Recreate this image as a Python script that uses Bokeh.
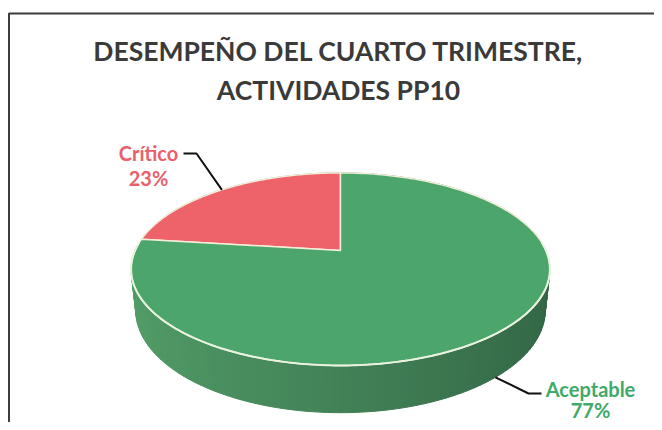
import numpy as np
from bokeh.plotting import figure
from bokeh.models import Range1d
from bokeh.core.properties import value
from bokeh.embed import file_html
from bokeh.resources import INLINE

# ---- data ----
categories = ["Crítico", "Aceptable"]
percents = [23, 77]
top_colors = ["#EE6269", "#4CA66B"]
label_colors = ["#E8606B", "#3FAA69"]
title_lines = ["DESEMPEÑO DEL CUARTO TRIMESTRE,", "ACTIVIDADES PP10"]

# ---- 3D projection (layout) ----
CX, CY = 340.0, 250.0
S_A, C_A = 0.451, 0.892
DIST, K, THICK = 4.6, 945.0, 0.2276


def proj(phi_deg, h):
    phi = np.radians(np.asarray(phi_deg, dtype=float))
    x = np.cos(phi)
    d = np.sin(phi)
    depth = DIST + d * C_A - h * S_A
    sx = CX + K * x / depth
    sy = CY - K * (h * C_A + d * S_A) / depth
    return sx, sy


p = figure(width=654, height=422, x_range=Range1d(0, 654), y_range=Range1d(422, 0),
           output_backend="svg", toolbar_location=None, min_border=0,
           x_axis_type=None, y_axis_type=None)
p.grid.visible = False
p.outline_line_color = None
p.background_fill_color = "white"

# chart border
p.quad(left=[8.5], right=[720], top=[13], bottom=[480], fill_color=None,
       line_color="#3c3c3c", line_width=2)

# angles from data
fracs = np.array(percents, dtype=float) / sum(percents)
starts = [90.0]
for f in fracs[:-1]:
    starts.append(starts[-1] + f * 360)
ends = [s + f * 360 for s, f in zip(starts, fracs)]

# side wall (green slice; only near side visible)
light = np.array([0x52, 0x9E, 0x68], dtype=float)
dark = np.array([0x33, 0x66, 0x46], dtype=float)
step = 2.0
xs_side, ys_side, cols = [], [], []
for a0 in np.arange(0, 360, step):
    a1 = a0 + step
    tx0, ty0 = proj(a0, 0)
    tx1, ty1 = proj(a1, 0)
    bx0, by0 = proj(a0, -THICK)
    bx1, by1 = proj(a1, -THICK)
    mid = np.radians(a0 + step / 2)
    f = (1 - np.cos(mid)) / 2
    c = dark + (light - dark) * f
    col = "#%02x%02x%02x" % tuple(int(v) for v in c)
    xs_side.append([float(tx0), float(tx1), float(bx1), float(bx0)])
    ys_side.append([float(ty0), float(ty1), float(by1), float(by0)])
    cols.append(col)
p.patches(xs_side, ys_side, fill_color=cols, line_color=cols, line_width=1)

# top faces
for s, e, col in zip(starts, ends, top_colors):
    ang = np.linspace(s, e, 200)
    ax, ay = proj(ang, 0)
    px = [CX] + list(ax) + [CX]
    py = [CY] + list(ay) + [CY]
    p.patch(px, py, fill_color=col, line_color="#F3EEDB", line_width=1.5)

# bright rim on near edge
rim = np.linspace(175, 365, 200)
rx, ry = proj(rim, 0)
p.line(rx, ry, line_color="#EAF3DF", line_width=2)

# leader lines and labels
mids = [(s + e) / 2 for s, e in zip(starts, ends)]
mx, my = proj(mids[0], 0)
p.line([183, 196, float(mx)], [153, 153, float(my)], line_color="#111111", line_width=2)
mx2, my2 = proj(mids[1], -THICK)
p.line([float(mx2), 528, 541], [float(my2), 393, 393], line_color="#111111", line_width=2)

font = value("Lato")
p.text(x=[148, 148], y=[152, 177], text=[categories[0], f"{percents[0]}%"],
       text_color=label_colors[0], text_font=font, text_font_style="bold",
       text_font_size="20px", text_align="center", text_baseline="middle")
p.text(x=[590, 590], y=[388, 409], text=[categories[1], f"{percents[1]}%"],
       text_color=label_colors[1], text_font=font, text_font_style="bold",
       text_font_size="20px", text_align="center", text_baseline="middle")

# title
p.text(x=[338, 338], y=[50, 89], text=title_lines, text_color="#3a3a3a",
       text_font=font, text_font_style="bold", text_font_size="26.5px",
       text_align="center", text_baseline="middle")

open("out.html", "w").write(file_html(p, INLINE))
